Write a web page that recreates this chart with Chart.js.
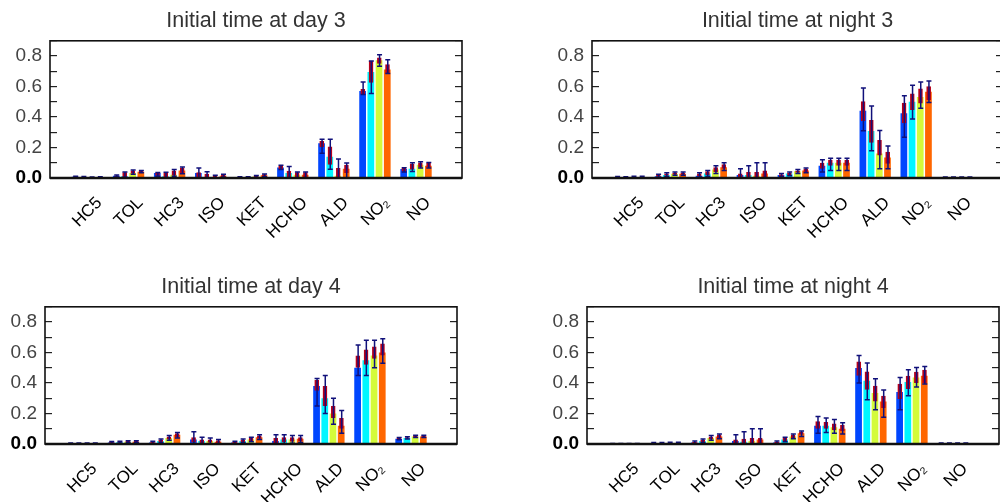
<!DOCTYPE html>
<html>
<head>
<meta charset="utf-8">
<script src="https://cdn.jsdelivr.net/npm/chart.js@4"></script>
<style>
  html, body { margin: 0; padding: 0; background: #fff; overflow: hidden; }
  body { width: 1000px; height: 502px; position: relative; }
  canvas { position: absolute; }
</style>
</head>
<body>
<canvas id="c1" width="500" height="251" style="left:0;top:0"></canvas>
<canvas id="c2" width="505" height="251" style="left:500px;top:0"></canvas>
<canvas id="c3" width="500" height="251" style="left:0;top:266px"></canvas>
<canvas id="c4" width="505" height="251" style="left:500px;top:266px"></canvas>
<script>
const categories = ["HC5", "TOL", "HC3", "ISO", "KET", "HCHO", "ALD", "NO₂", "NO"];
const yTicks = [0, 0.2, 0.4, 0.6, 0.8];

// one row per species, one entry per run (blue, cyan, yellow-green, orange)
const day3Bar = [
  [0.008, 0.007, 0.004, 0.005],
  [0.015, 0.011, 0.033, 0.041],
  [0.033, 0.011, 0.022, 0.05],
  [0.033, 0.007, 0.007, 0.015],
  [0.006, 0.006, 0.01, 0.018],
  [0.069, 0.033, 0.022, 0.022],
  [0.228, 0.14, 0.015, 0.06],
  [0.57, 0.696, 0.772, 0.711],
  [0.059, 0.06, 0.087, 0.08],
];
const day3Box = [
  [[0.004, 0.01], [0.004, 0.009], [0.002, 0.006], [0.003, 0.007]],
  [[0.008, 0.017], [0.007, 0.037], [0.028, 0.05], [0.037, 0.048]],
  [[0.015, 0.033], [0.007, 0.033], [0.015, 0.05], [0.028, 0.065]],
  [[0.007, 0.037], [0, 0.028], [0, 0.015], [0.007, 0.022]],
  [[0.002, 0.008], [0.002, 0.008], [0.005, 0.014], [0.01, 0.024]],
  [[0.059, 0.08], [0, 0.048], [0, 0.037], [0, 0.037]],
  [[0.202, 0.243], [0.087, 0.206], [0, 0.065], [0.033, 0.087]],
  [[0.548, 0.583], [0.624, 0.767], [0.75, 0.79], [0.685, 0.746]],
  [[0.043, 0.065], [0.054, 0.093], [0.069, 0.102], [0.069, 0.098]],
];
const day3Err = [
  [[0.003, 0.011], [0.003, 0.01], [0.001, 0.007], [0.002, 0.008]],
  [[0.006, 0.019], [0.005, 0.04], [0.025, 0.053], [0.035, 0.05]],
  [[0.012, 0.036], [0, 0.037], [0.011, 0.055], [0.028, 0.072]],
  [[0, 0.065], [0, 0.041], [0, 0.018], [0.005, 0.025]],
  [[0.001, 0.009], [0.001, 0.009], [0.004, 0.016], [0.008, 0.026]],
  [[0.055, 0.084], [0, 0.076], [0, 0.04], [0, 0.04]],
  [[0.163, 0.254], [0.058, 0.254], [0, 0.124], [0, 0.098]],
  [[0.548, 0.63], [0.555, 0.767], [0.733, 0.809], [0.685, 0.776]],
  [[0.04, 0.068], [0.043, 0.1], [0.066, 0.106], [0.066, 0.102]],
];

const night3Bar = [
  [0.005, 0.004, 0.006, 0.006],
  [0.012, 0.02, 0.028, 0.028],
  [0.015, 0.03, 0.055, 0.07],
  [0.02, 0.02, 0.015, 0.03],
  [0.02, 0.03, 0.045, 0.05],
  [0.08, 0.1, 0.1, 0.1],
  [0.441, 0.309, 0.16, 0.135],
  [0.424, 0.5, 0.532, 0.565],
  [0.003, 0.003, 0.003, 0.003],
];
const night3Box = [
  [[0.002, 0.008], [0.002, 0.007], [0.003, 0.009], [0.003, 0.009]],
  [[0.008, 0.02], [0.015, 0.03], [0.022, 0.035], [0.022, 0.035]],
  [[0.01, 0.03], [0.02, 0.045], [0.04, 0.07], [0.06, 0.09]],
  [[0, 0.03], [0, 0.04], [0, 0.04], [0, 0.05]],
  [[0.012, 0.025], [0.02, 0.035], [0.035, 0.05], [0.04, 0.06]],
  [[0.06, 0.1], [0.08, 0.12], [0.08, 0.12], [0.08, 0.12]],
  [[0.374, 0.504], [0.232, 0.38], [0.148, 0.25], [0.093, 0.172]],
  [[0.359, 0.493], [0.446, 0.555], [0.489, 0.587], [0.511, 0.602]],
  [[0.001, 0.005], [0.001, 0.005], [0.001, 0.005], [0.001, 0.005]],
];
const night3Err = [
  [[0.001, 0.01], [0.001, 0.009], [0.002, 0.011], [0.002, 0.011]],
  [[0.005, 0.024], [0.01, 0.035], [0.018, 0.04], [0.018, 0.04]],
  [[0.005, 0.035], [0.012, 0.05], [0.03, 0.08], [0.05, 0.1]],
  [[0, 0.06], [0, 0.08], [0, 0.1], [0, 0.1]],
  [[0.008, 0.03], [0.015, 0.04], [0.03, 0.055], [0.035, 0.065]],
  [[0.04, 0.12], [0.05, 0.13], [0.05, 0.13], [0.05, 0.13]],
  [[0.31, 0.59], [0.178, 0.472], [0.06, 0.311], [0.06, 0.21]],
  [[0.267, 0.539], [0.387, 0.609], [0.457, 0.63], [0.496, 0.637]],
  [[0, 0.006], [0, 0.006], [0, 0.006], [0, 0.006]],
];

const day4Bar = [
  [0.003, 0.003, 0.003, 0.003],
  [0.01, 0.012, 0.015, 0.015],
  [0.01, 0.02, 0.04, 0.06],
  [0.03, 0.02, 0.02, 0.015],
  [0.01, 0.02, 0.03, 0.045],
  [0.02, 0.03, 0.03, 0.035],
  [0.38, 0.3, 0.2, 0.12],
  [0.5, 0.55, 0.58, 0.6],
  [0.035, 0.04, 0.05, 0.05],
];
const day4Box = [
  [[0.001, 0.005], [0.001, 0.005], [0.001, 0.005], [0.001, 0.005]],
  [[0.006, 0.014], [0.008, 0.016], [0.01, 0.02], [0.01, 0.02]],
  [[0.005, 0.015], [0.012, 0.028], [0.03, 0.05], [0.045, 0.07]],
  [[0.01, 0.045], [0.005, 0.03], [0.008, 0.03], [0.005, 0.025]],
  [[0.005, 0.015], [0.012, 0.028], [0.02, 0.04], [0.035, 0.055]],
  [[0.005, 0.04], [0.01, 0.045], [0.015, 0.045], [0.02, 0.045]],
  [[0.35, 0.42], [0.25, 0.38], [0.17, 0.25], [0.1, 0.17]],
  [[0.5, 0.58], [0.52, 0.62], [0.56, 0.64], [0.58, 0.66]],
  [[0.03, 0.04], [0.035, 0.045], [0.045, 0.055], [0.045, 0.055]],
];
const day4Err = [
  [[0, 0.006], [0, 0.006], [0, 0.006], [0, 0.006]],
  [[0.004, 0.016], [0.006, 0.018], [0.008, 0.022], [0.008, 0.022]],
  [[0.002, 0.018], [0.008, 0.032], [0.025, 0.055], [0.04, 0.075]],
  [[0, 0.08], [0, 0.045], [0, 0.04], [0, 0.03]],
  [[0.002, 0.018], [0.008, 0.032], [0.015, 0.045], [0.03, 0.06]],
  [[0, 0.06], [0, 0.06], [0.005, 0.055], [0.01, 0.055]],
  [[0.25, 0.43], [0.2, 0.45], [0.13, 0.3], [0.07, 0.22]],
  [[0.45, 0.65], [0.45, 0.68], [0.5, 0.68], [0.53, 0.69]],
  [[0.028, 0.042], [0.032, 0.048], [0.042, 0.058], [0.042, 0.058]],
];

const night4Bar = [
  [0.002, 0.002, 0.002, 0.002],
  [0.005, 0.005, 0.006, 0.006],
  [0.01, 0.02, 0.04, 0.05],
  [0.02, 0.015, 0.02, 0.03],
  [0.01, 0.03, 0.05, 0.07],
  [0.12, 0.12, 0.11, 0.1],
  [0.498, 0.415, 0.334, 0.279],
  [0.341, 0.406, 0.437, 0.448],
  [0.003, 0.003, 0.003, 0.003],
];
const night4Box = [
  [[0.001, 0.003], [0.001, 0.003], [0.001, 0.003], [0.001, 0.003]],
  [[0.003, 0.008], [0.003, 0.008], [0.004, 0.009], [0.004, 0.009]],
  [[0.005, 0.015], [0.012, 0.028], [0.03, 0.05], [0.04, 0.06]],
  [[0, 0.03], [0, 0.035], [0, 0.04], [0, 0.04]],
  [[0.005, 0.015], [0.02, 0.04], [0.04, 0.06], [0.06, 0.08]],
  [[0.1, 0.15], [0.1, 0.145], [0.09, 0.135], [0.085, 0.125]],
  [[0.448, 0.542], [0.356, 0.476], [0.279, 0.382], [0.236, 0.317]],
  [[0.295, 0.395], [0.36, 0.448], [0.4, 0.474], [0.4, 0.487]],
  [[0.001, 0.005], [0.001, 0.005], [0.001, 0.005], [0.001, 0.005]],
];
const night4Err = [
  [[0, 0.004], [0, 0.004], [0, 0.004], [0, 0.004]],
  [[0.002, 0.01], [0.002, 0.01], [0.003, 0.011], [0.003, 0.011]],
  [[0.002, 0.02], [0.008, 0.032], [0.025, 0.055], [0.035, 0.065]],
  [[0, 0.06], [0, 0.08], [0, 0.1], [0, 0.1]],
  [[0.002, 0.02], [0.015, 0.045], [0.035, 0.065], [0.05, 0.085]],
  [[0.07, 0.18], [0.075, 0.17], [0.07, 0.16], [0.065, 0.14]],
  [[0.4, 0.581], [0.29, 0.531], [0.225, 0.428], [0.175, 0.354]],
  [[0.225, 0.437], [0.317, 0.487], [0.374, 0.502], [0.393, 0.509]],
  [[0, 0.006], [0, 0.006], [0, 0.006], [0, 0.006]],
];

const runColors = ["#0046ff", "#00f6ff", "#d4fb3a", "#ff6600"];
const boxColor = "#b5001b";
const whiskerColor = "#10107a";

Chart.defaults.font.family = "'Liberation Sans', Arial, Helvetica, sans-serif";
Chart.defaults.animation = false;

// x range: group centres sit 0.913 unit in from the left frame, 10.03 units wide
const xMin = 0.087, xMax = 10.12;
const labelShift = 0.29;

const isZero = ctx => !!ctx.tick && Math.abs(ctx.tick.value) < 1e-9;

const whiskers = {
  id: "whiskers",
  afterDatasetsDraw(chart) {
    const ctx = chart.ctx, y = chart.scales.y;
    chart.data.datasets.forEach((ds, i) => {
      if (!ds.err) return;
      chart.getDatasetMeta(i).data.forEach((el, j) => {
        const [lo, hi] = ds.err[j];
        const y1 = y.getPixelForValue(lo), y2 = y.getPixelForValue(hi);
        const x = el.x + 0.5;
        ctx.save();
        ctx.strokeStyle = whiskerColor;
        ctx.lineWidth = 1.5;
        ctx.beginPath();
        ctx.moveTo(x, y1); ctx.lineTo(x, y2);
        ctx.moveTo(x - 2.5, y1); ctx.lineTo(x + 2.5, y1);
        ctx.moveTo(x - 2.5, y2); ctx.lineTo(x + 2.5, y2);
        ctx.stroke();
        ctx.restore();
      });
    });
  }
};

const frame = {
  id: "frame",
  afterDraw(chart) {
    const { left, right, top, bottom } = chart.chartArea;
    const ctx = chart.ctx;
    ctx.save();
    ctx.strokeStyle = "#111";
    ctx.lineWidth = 1.6;
    ctx.strokeRect(left, top, right - left, bottom - top);
    ctx.lineWidth = 2.4;
    ctx.beginPath();
    ctx.moveTo(left, bottom); ctx.lineTo(right, bottom);
    ctx.stroke();
    ctx.restore();
  }
};

function yAxis(position, width, showLabels) {
  return {
    type: "linear", position, min: 0, max: 0.9, stacked: false,
    afterFit: s => { s.width = width; },
    border: { display: false },
    grid: { drawOnChartArea: false, drawTicks: true, tickLength: -7, color: "#222", lineWidth: 1.2 },
    ticks: {
      display: showLabels, stepSize: 0.1, autoSkip: false, padding: 15,
      font: ctx => ({ size: 19, weight: isZero(ctx) ? "bold" : "normal" }),
      color: ctx => isZero(ctx) ? "#000" : "#444",
      callback: v => {
        const t = yTicks.find(k => Math.abs(k - v) < 1e-6);
        return t === undefined ? "" : t.toFixed(1);
      }
    }
  };
}

function makePanel(id, title, bars, boxes, errs, yWidth, padRight) {
  const datasets = [];
  // each run gets its own slot; the red box shares that slot with its bar
  runColors.forEach((c, s) => {
    datasets.push({
      data: categories.map((n, i) => ({ x: i + 1, y: bars[i][s] })),
      backgroundColor: c, stack: "run" + s, order: 2,
      barPercentage: 0.82, categoryPercentage: 0.8
    });
  });
  runColors.forEach((c, s) => {
    datasets.push({
      data: categories.map((n, i) => ({ x: i + 1, y: boxes[i][s] })),
      err: errs.map(r => r[s]),
      backgroundColor: boxColor, stack: "run" + s, order: 1,
      barPercentage: 0.62, categoryPercentage: 0.8,
      borderWidth: { left: 0.6, right: 0, top: 0, bottom: 0 }, borderColor: "rgba(0,0,0,0)"
    });
  });
  new Chart(document.getElementById(id), {
    type: "bar",
    data: { datasets },
    options: {
      responsive: false,
      layout: { padding: { right: padRight, left: 0, top: 0, bottom: 0 } },
      plugins: {
        legend: { display: false },
        tooltip: { enabled: false },
        title: {
          display: true, text: title, fullSize: false, color: "#333",
          font: { size: 21.5, weight: "normal" }, padding: { top: 8, bottom: 7 }
        }
      },
      scales: {
        x: {
          type: "linear", display: false, offset: false, stacked: true,
          grid: { offset: false }, min: xMin, max: xMax,
          ticks: { stepSize: 1, includeBounds: false }
        },
        xl: {
          type: "linear", position: "bottom", offset: false,
          min: xMin - labelShift, max: xMax - labelShift,
          afterFit: s => { s.height = 73; },
          grid: { display: false, offset: false }, border: { display: false },
          ticks: {
            stepSize: 1, includeBounds: false, autoSkip: false,
            minRotation: 45, maxRotation: 45, padding: 7,
            color: "#000", font: { size: 17 },
            callback: v => categories[v - 1] || ""
          }
        },
        y: yAxis("left", yWidth, true),
        y2: yAxis("right", 0, false)
      }
    },
    plugins: [whiskers, frame]
  });
}

makePanel("c1", "Initial time at day 3", day3Bar, day3Box, day3Err, 50, 38);
makePanel("c2", "Initial time at night 3", night3Bar, night3Box, night3Err, 92, 2);
makePanel("c3", "Initial time at day 4", day4Bar, day4Box, day4Err, 45, 43);
makePanel("c4", "Initial time at night 4", night4Bar, night4Box, night4Err, 87, 6);
</script>
</body>
</html>
